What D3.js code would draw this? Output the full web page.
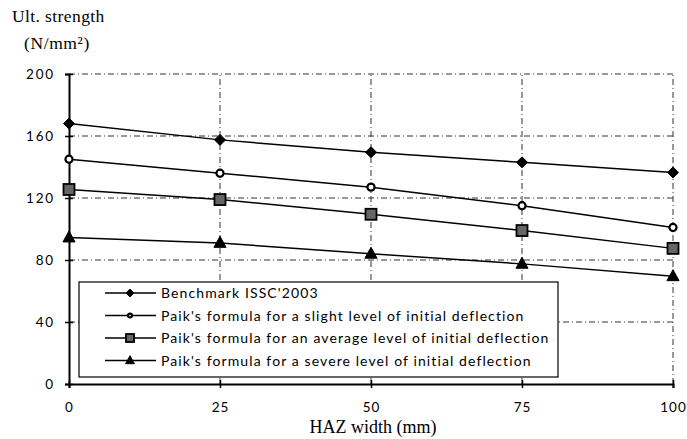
<!DOCTYPE html>
<html><head><meta charset="utf-8">
<script src="https://cdn.jsdelivr.net/npm/d3@7"></script>
<style>body{margin:0;background:#fff}svg{display:block}</style>
</head><body>
<svg id="c" width="687" height="439"></svg>
<script>
const xValues = [0, 25, 50, 75, 100];
const benchmark = [168, 157.5, 149.5, 143, 136.5];
const slight = [145, 136, 127, 115, 101];
const average = [125.5, 119, 109.5, 99, 87.5];
const severe = [94.5, 91, 84, 77.5, 69.5];
const yTicks = [0, 40, 80, 120, 160, 200];
const xTicks = [0, 25, 50, 75, 100];
const seriesNames = [
  "Benchmark ISSC'2003",
  "Paik's formula for a slight level of initial deflection",
  "Paik's formula for an average level of initial deflection",
  "Paik's formula for a severe level of initial deflection"
];
const seriesData = [benchmark, slight, average, severe];
const markerTypes = ["diamond", "circle", "square", "triangle"];

const svg = d3.select("#c");
const x = d3.scaleLinear().domain([0, 100]).range([69, 673]);
const y = d3.scaleLinear().domain([0, 200]).range([384, 74]);
const tickFont = "Lato, 'Open Sans', sans-serif";
const serif = "'Liberation Serif', 'DejaVu Serif', serif";

// grid
const g = svg.append("g");
g.selectAll("line.h").data(yTicks.filter(d => d > 0)).join("line")
  .attr("x1", x(0)).attr("x2", x(100)).attr("y1", d => y(d)).attr("y2", d => y(d))
  .attr("stroke", "#333").attr("stroke-width", 1).attr("stroke-dasharray", "6,3,1,3");
g.selectAll("line.v").data(xTicks.filter(d => d > 0)).join("line")
  .attr("x1", d => x(d)).attr("x2", d => x(d)).attr("y1", y(0)).attr("y2", y(200))
  .attr("stroke", "#333").attr("stroke-width", 1).attr("stroke-dasharray", "6,3,1,3");

// axes
const yAxis = d3.axisLeft(y).tickValues(yTicks).tickSize(4).tickPadding(10);
const ya = svg.append("g").attr("transform", `translate(${x(0)},0)`).call(yAxis);
ya.select(".domain").attr("stroke", "#000").attr("stroke-width", 2);
ya.selectAll(".tick line").attr("stroke", "#000").attr("stroke-width", 1.5).attr("x2", 4).attr("x1", -4);
ya.selectAll(".tick text").attr("font-family", tickFont).attr("font-size", 13.5).attr("fill", "#000")
  .attr("letter-spacing", "1.8px");

const xAxis = d3.axisBottom(x).tickValues(xTicks).tickSize(4).tickPadding(14);
const xa = svg.append("g").attr("transform", `translate(0,${y(0)})`).call(xAxis);
xa.select(".domain").attr("stroke", "#000").attr("stroke-width", 2);
xa.selectAll(".tick line").attr("stroke", "#000").attr("stroke-width", 1.5).attr("y1", -4).attr("y2", 4);
xa.selectAll(".tick text").attr("font-family", tickFont).attr("font-size", 13.5).attr("fill", "#000")
  .attr("letter-spacing", "1px");

// axis titles
svg.append("text").attr("x", 12).attr("y", 22).attr("font-family", serif).attr("font-size", 17.5)
  .attr("letter-spacing", "0.4px").attr("fill", "#000").text("Ult. strength");
svg.append("text").attr("x", 24).attr("y", 49).attr("font-family", serif).attr("font-size", 17.5)
  .attr("letter-spacing", "0.6px").attr("fill", "#000").text("(N/mm²)");
svg.append("text").attr("x", 373).attr("y", 433).attr("text-anchor", "middle").attr("font-family", serif)
  .attr("font-size", 18).attr("fill", "#000").text("HAZ width (mm)");

// markers
function drawMarker(sel, type, cx, cy, s) {
  if (type === "diamond") {
    sel.append("path").attr("d", `M${cx},${cy - s}L${cx + s},${cy}L${cx},${cy + s}L${cx - s},${cy}Z`)
      .attr("fill", "#000").attr("stroke", "#000");
  } else if (type === "circle") {
    sel.append("circle").attr("cx", cx).attr("cy", cy).attr("r", s * 0.65)
      .attr("fill", "#fff").attr("stroke", "#000").attr("stroke-width", 2.2);
  } else if (type === "square") {
    sel.append("rect").attr("x", cx - s).attr("y", cy - s).attr("width", 2 * s).attr("height", 2 * s)
      .attr("fill", "#666").attr("stroke", "#000").attr("stroke-width", 1.8);
  } else {
    sel.append("path").attr("d", `M${cx},${cy - s * 1.2}L${cx + s * 1.1},${cy + s * 0.8}L${cx - s * 1.1},${cy + s * 0.8}Z`)
      .attr("fill", "#000").attr("stroke", "#000");
  }
}

const line = d3.line().x((d, i) => x(xValues[i])).y(d => y(d));
seriesData.forEach((vals, k) => {
  svg.append("path").datum(vals).attr("d", line).attr("fill", "none")
    .attr("stroke", "#000").attr("stroke-width", 1.5);
  const mg = svg.append("g");
  vals.forEach((v, i) => drawMarker(mg, markerTypes[k], x(xValues[i]), y(v), 5.5));
});

// legend
const lg = svg.append("g");
lg.append("rect").attr("x", 79).attr("y", 282).attr("width", 479).attr("height", 95)
  .attr("fill", "#fff").attr("stroke", "#000").attr("stroke-width", 1.2);
seriesNames.forEach((name, k) => {
  const ly = 293 + k * 22.5;
  lg.append("line").attr("x1", 105).attr("x2", 156).attr("y1", ly).attr("y2", ly)
    .attr("stroke", "#000").attr("stroke-width", 1.5);
  drawMarker(lg, markerTypes[k], 130, ly, k === 1 ? 3 : 4);
  lg.append("text").attr("x", 161).attr("y", ly + 5).attr("font-family", tickFont).attr("font-size", 14)
    .attr("letter-spacing", "1.1px").attr("fill", "#000").text(name);
});
</script>
</body></html>
